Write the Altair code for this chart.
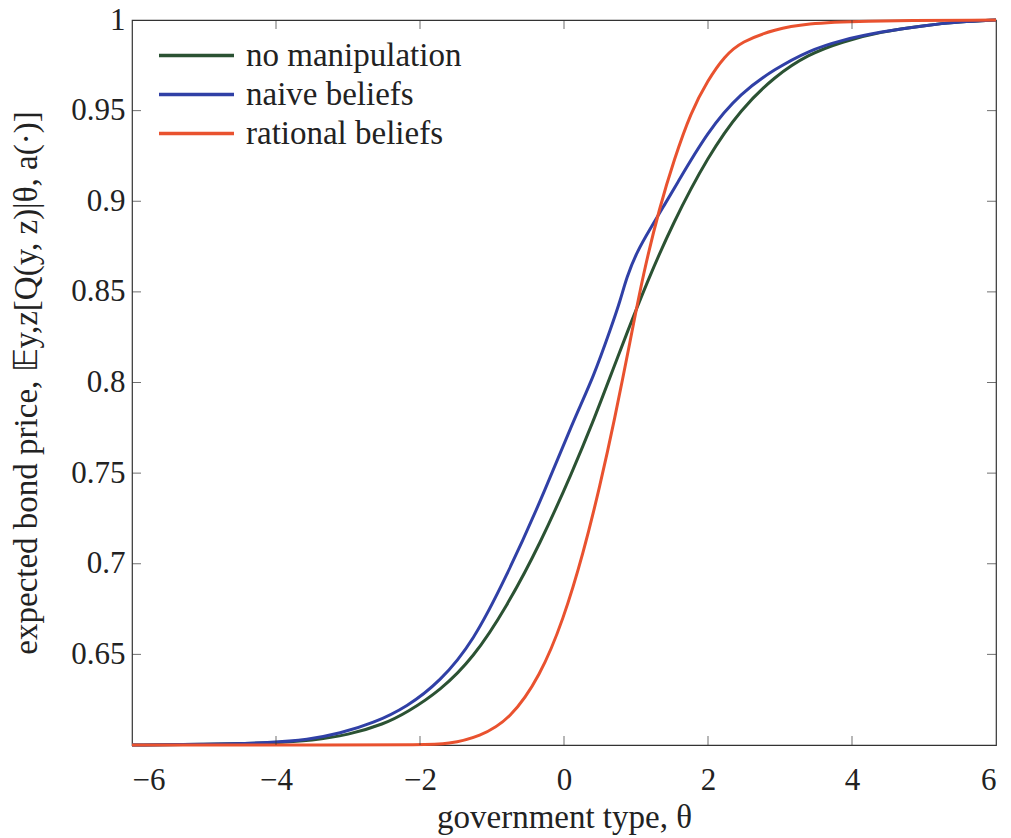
import altair as alt
import pandas as pd

# government type theta and expected bond price for each series
theta_none = [-6, -5, -4, -3.5, -3, -2.5, -2.18, -1.72, -1.26, -0.8, -0.33, 0.13, 0.40, 0.64, 0.87, 1.15, 1.5, 2.0, 2.46, 2.93, 3.39, 3.86, 4.4, 5.0, 5.5, 6]
price_none = [0.600, 0.6003, 0.6012, 0.6025, 0.6055, 0.6115, 0.618, 0.630, 0.648, 0.676, 0.711, 0.752, 0.778, 0.803, 0.827, 0.855, 0.887, 0.925, 0.951, 0.969, 0.981, 0.988, 0.9935, 0.997, 0.999, 1.0]

theta_naive = [-6, -5, -4.04, -3.57, -3.11, -2.65, -2.18, -1.72, -1.26, -0.80, -0.33, 0.13, 0.41, 0.66, 0.78, 0.87, 1.01, 1.20, 1.38, 1.53, 2.0, 2.46, 2.93, 3.39, 3.86, 4.4, 5.0, 5.5, 6]
price_naive = [0.600, 0.6003, 0.6013, 0.6028, 0.6064, 0.612, 0.621, 0.635, 0.657, 0.693, 0.734, 0.779, 0.803, 0.831, 0.845, 0.858, 0.872, 0.885, 0.897, 0.907, 0.939, 0.960, 0.973, 0.983, 0.989, 0.9935, 0.997, 0.999, 1.0]

theta_rational = [-6, -3, -2, -1.6, -1.17, -0.75, -0.33, -0.01, 0.27, 0.5, 0.70, 0.92, 1.10, 1.33, 1.53, 1.76, 2.0, 2.23, 2.46, 2.93, 3.39, 4.0, 6]
price_rational = [0.600, 0.600, 0.6001, 0.6005, 0.6046, 0.614, 0.638, 0.669, 0.706, 0.743, 0.779, 0.823, 0.860, 0.897, 0.923, 0.949, 0.967, 0.980, 0.988, 0.995, 0.998, 0.9995, 1.0]

series_names = ["no manipulation", "naive beliefs", "rational beliefs"]
series_colors = ["#2b5233", "#3040a6", "#e9522f"]

x_ticks = [-6, -4, -2, 0, 2, 4, 6]
y_ticks = [0.65, 0.7, 0.75, 0.8, 0.85, 0.9, 0.95, 1.0]

rows = []
for name, xs, ys in zip(series_names,
                        [theta_none, theta_naive, theta_rational],
                        [price_none, price_naive, price_rational]):
    for i, (a, b) in enumerate(zip(xs, ys)):
        rows.append({"series": name, "theta": a, "price": b, "order": i})
df = pd.DataFrame(rows)

W, H = 864, 725
FONT = "Liberation Serif"
FS = 31
TFS = 33

xscale = alt.Scale(domain=[-6, 6], nice=False, zero=False)
yscale = alt.Scale(domain=[0.6, 1.0], nice=False, zero=False)

lines = alt.Chart(df).mark_line(strokeWidth=3, interpolate="basis").encode(
    x=alt.X("theta:Q", scale=xscale,
            axis=alt.Axis(values=x_ticks, title="government type, θ", ticks=False,
                          domain=False, grid=False, labelPadding=20, titlePadding=6,
                          labelFont=FONT, titleFont=FONT, labelFontSize=FS, titleFontSize=TFS,
                          labelColor="#222", titleColor="#222", titleFontWeight="normal",
                          labelExpr="format(datum.value, 'd')")),
    y=alt.Y("price:Q", scale=yscale,
            axis=alt.Axis(values=y_ticks, title="expected bond price, 𝔼y,z[Q(y, z)|θ, a(·)]",
                          ticks=False, domain=False, grid=False, labelPadding=7,
                          titlePadding=27, labelFont=FONT, titleFont=FONT,
                          labelFontSize=FS, titleFontSize=TFS, labelColor="#222",
                          titleColor="#222", titleFontWeight="normal",
                          labelExpr="format(datum.value, '.2~f')")),
    color=alt.Color("series:N", sort=series_names,
                    scale=alt.Scale(domain=series_names, range=series_colors),
                    legend=alt.Legend(title=None, orient="none", legendX=44, legendY=15,
                                      symbolType="M-2,0L2,0", symbolSize=1406,
                                      symbolStrokeWidth=3.5, labelFontSize=TFS,
                                      labelFont=FONT, labelColor="#222", rowPadding=1,
                                      labelOffset=29, labelLimit=0)),
    order="order:Q",
)

xt = pd.DataFrame({"t": x_ticks[1:-1]})
yt = pd.DataFrame({"t": y_ticks[:-1]})

tick_bottom = alt.Chart(xt).mark_tick(orient="vertical", size=9, thickness=1, color="#333").encode(
    x=alt.X("t:Q", scale=xscale), y=alt.value(H - 4.5))
tick_top = alt.Chart(xt).mark_tick(orient="vertical", size=9, thickness=1, color="#333").encode(
    x=alt.X("t:Q", scale=xscale), y=alt.value(4.5))
tick_left = alt.Chart(yt).mark_tick(orient="horizontal", size=9, thickness=1, color="#333").encode(
    y=alt.Y("t:Q", scale=yscale), x=alt.value(4.5))
tick_right = alt.Chart(yt).mark_tick(orient="horizontal", size=9, thickness=1, color="#333").encode(
    y=alt.Y("t:Q", scale=yscale), x=alt.value(W - 4.5))

chart = alt.layer(lines, tick_bottom, tick_top, tick_left, tick_right).properties(
    width=W, height=H,
    background="white",
    autosize=alt.AutoSizeParams(type="none"),
    padding={"left": 132, "top": 20, "right": 15, "bottom": 93},
).configure_view(stroke="#333", strokeWidth=1.2).configure_legend(
    labelFont=FONT, labelFontSize=TFS
)

chart.save("out.html", embed_options={"renderer": "svg", "actions": False})
